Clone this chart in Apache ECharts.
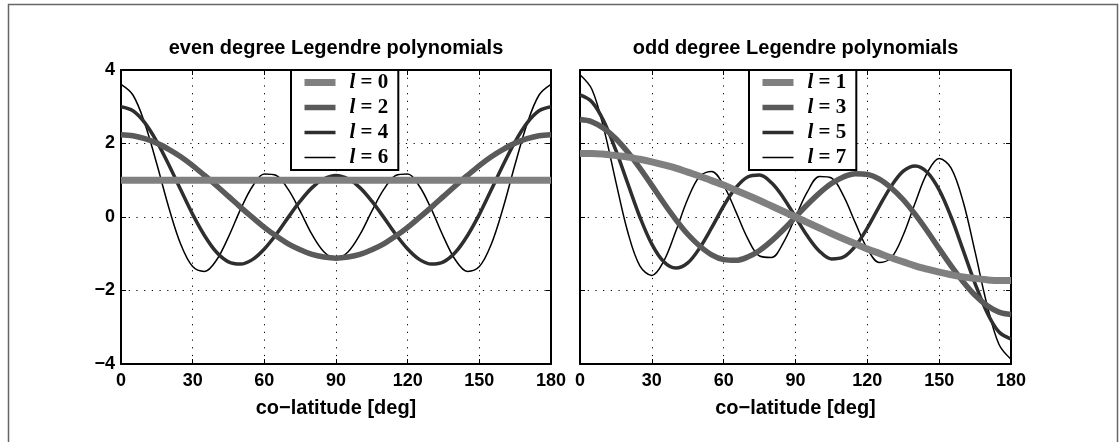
<!DOCTYPE html>
<html>
<head>
<meta charset="utf-8">
<script src="https://cdn.jsdelivr.net/npm/echarts@6/dist/echarts.min.js"></script>
<style>
  html, body { margin: 0; padding: 0; background: #fff; }
  #chart { width: 1119px; height: 442px; }
</style>
</head>
<body>
<div id="chart"></div>
<script>
// co-latitude samples [deg]
const colatitude = [0, 5, 10, 15, 20, 25, 30, 35, 40, 45, 50, 55, 60, 65, 70, 75, 80, 85, 90,
  95, 100, 105, 110, 115, 120, 125, 130, 135, 140, 145, 150, 155, 160, 165, 170, 175, 180];

// even degree curves
const l0 = [1, 1, 1, 1, 1, 1, 1, 1, 1, 1, 1, 1, 1, 1, 1, 1, 1, 1, 1,
  1, 1, 1, 1, 1, 1, 1, 1, 1, 1, 1, 1, 1, 1, 1, 1, 1, 1];
const l2 = [2.24, 2.21, 2.13, 2.01, 1.84, 1.64, 1.40, 1.13, 0.85, 0.56, 0.27, -0.01, -0.28, -0.52, -0.73, -0.89, -1.02, -1.09, -1.12,
  -1.09, -1.02, -0.89, -0.73, -0.52, -0.28, -0.01, 0.27, 0.56, 0.85, 1.13, 1.40, 1.64, 1.84, 2.01, 2.13, 2.21, 2.24];
const l4 = [3.00, 2.89, 2.56, 2.05, 1.42, 0.74, 0.07, -0.51, -0.96, -1.22, -1.28, -1.16, -0.87, -0.47, -0.01, 0.43, 0.80, 1.04, 1.13,
  1.04, 0.80, 0.43, -0.01, -0.47, -0.87, -1.16, -1.28, -1.22, -0.96, -0.51, 0.07, 0.74, 1.42, 2.05, 2.56, 2.89, 3.00];
const l6 = [3.61, 3.32, 2.54, 1.44, 0.26, -0.74, -1.35, -1.48, -1.17, -0.54, 0.20, 0.83, 1.17, 1.13, 0.75, 0.16, -0.48, -0.95, -1.13,
  -0.95, -0.48, 0.16, 0.75, 1.13, 1.17, 0.83, 0.20, -0.54, -1.17, -1.48, -1.35, -0.74, 0.26, 1.44, 2.54, 3.32, 3.61];

// odd degree curves
const l1 = [1.73, 1.73, 1.71, 1.67, 1.63, 1.57, 1.50, 1.42, 1.33, 1.22, 1.11, 0.99, 0.87, 0.73, 0.59, 0.45, 0.30, 0.15, 0.00,
  -0.15, -0.30, -0.45, -0.59, -0.73, -0.87, -0.99, -1.11, -1.22, -1.33, -1.42, -1.50, -1.57, -1.63, -1.67, -1.71, -1.73, -1.73];
const l3 = [2.65, 2.59, 2.41, 2.13, 1.76, 1.33, 0.86, 0.38, -0.07, -0.47, -0.79, -1.03, -1.16, -1.18, -1.09, -0.91, -0.65, -0.34, 0.00,
  0.34, 0.65, 0.91, 1.09, 1.18, 1.16, 1.03, 0.79, 0.47, 0.07, -0.38, -0.86, -1.33, -1.76, -2.13, -2.41, -2.59, -2.65];
const l5 = [3.32, 3.13, 2.60, 1.81, 0.90, 0.00, -0.74, -1.22, -1.39, -1.25, -0.84, -0.29, 0.30, 0.79, 1.09, 1.14, 0.93, 0.52, 0.00,
  -0.52, -0.93, -1.14, -1.09, -0.79, -0.30, 0.29, 0.84, 1.25, 1.39, 1.22, 0.74, 0.00, -0.90, -1.81, -2.60, -3.13, -3.32];
const l7 = [3.87, 3.47, 2.39, 0.95, -0.42, -1.33, -1.59, -1.20, -0.39, 0.49, 1.11, 1.24, 0.86, 0.16, -0.58, -1.06, -1.10, -0.69, 0.00,
  0.69, 1.10, 1.06, 0.58, -0.16, -0.86, -1.24, -1.11, -0.49, 0.39, 1.20, 1.59, 1.33, 0.42, -0.95, -2.39, -3.47, -3.87];

const xTicks = [0, 30, 60, 90, 120, 150, 180];
const yTicks = [-4, -2, 0, 2, 4];
const evenNames = ['l = 0', 'l = 2', 'l = 4', 'l = 6'];
const oddNames = ['l = 1', 'l = 3', 'l = 5', 'l = 7'];
const titles = ['even degree Legendre polynomials', 'odd degree Legendre polynomials'];
const xName = 'co\u2212latitude [deg]';

// thick light gray -> thin black
const colors = ['#808080', '#5a5a5a', '#2e2e2e', '#000000'];
const widths = [7, 5.5, 3.5, 1.5];

const sans = 'Liberation Sans';
const serif = 'Liberation Serif';
const chart = echarts.init(document.getElementById('chart'));

const minus = (v) => (v < 0 ? '\u2212' + Math.abs(v) : String(v));

function makeSeries(name, values, idx, k) {
    return {
        name: name,
        type: 'line',
        xAxisIndex: idx,
        yAxisIndex: idx,
        data: colatitude.map((c, i) => [c, values[i]]),
        smooth: 0.35,
        symbol: 'none',
        silent: true,
        animation: false,
        lineStyle: { color: colors[k], width: widths[k], cap: 'butt' },
        itemStyle: { color: colors[k] }
    };
}

function bottomAxis(idx) {
    return {
        type: 'value', gridIndex: idx, position: 'bottom',
        min: xTicks[0], max: xTicks[xTicks.length - 1], interval: 30,
        name: xName, nameLocation: 'middle', nameGap: 34,
        nameTextStyle: { fontFamily: sans, fontWeight: 'bold', fontSize: 20, color: '#000' },
        axisLine: { show: true, onZero: false, lineStyle: { color: '#000', width: 2 } },
        axisTick: { show: true, inside: true, length: 5, lineStyle: { color: '#000', width: 1 } },
        axisLabel: { margin: 8, fontFamily: sans, fontWeight: 'bold', fontSize: 18, color: '#000' },
        splitLine: { show: true, lineStyle: { color: '#000', width: 1, type: [1.2, 6.5] } }
    };
}

function topAxis(idx) {
    return {
        type: 'value', gridIndex: idx, position: 'top',
        min: xTicks[0], max: xTicks[xTicks.length - 1], interval: 30,
        name: titles[idx], nameLocation: 'middle', nameGap: 12,
        nameTextStyle: { fontFamily: sans, fontWeight: 'bold', fontSize: 20, color: '#000' },
        axisLine: { show: true, onZero: false, lineStyle: { color: '#000', width: 2 } },
        axisTick: { show: true, inside: true, length: 5, lineStyle: { color: '#000', width: 1 } },
        axisLabel: { show: false },
        splitLine: { show: false }
    };
}

function sideAxis(idx, pos, showLabel, grid) {
    return {
        type: 'value', gridIndex: idx, position: pos,
        min: yTicks[0], max: yTicks[yTicks.length - 1], interval: 2,
        axisLine: { show: true, onZero: false, lineStyle: { color: '#000', width: 2 } },
        axisTick: { show: true, inside: true, length: 5, lineStyle: { color: '#000', width: 1 } },
        axisLabel: { show: showLabel, margin: 6, formatter: minus,
            fontFamily: sans, fontWeight: 'bold', fontSize: 18, color: '#000' },
        splitLine: { show: grid, lineStyle: { color: '#000', width: 1, type: [1.2, 6.5] } }
    };
}

function makeLegend(names, left) {
    return {
        orient: 'vertical',
        left: left,
        top: 70,
        itemWidth: 31,
        itemHeight: 20,
        itemGap: 4,
        padding: [2, 10, 2, 10],
        backgroundColor: '#fff',
        borderColor: '#000',
        borderWidth: 2,
        selectedMode: false,
        data: names.map((n, k) => ({
            name: n,
            lineStyle: { width: widths[k], color: colors[k], cap: 'butt' },
            itemStyle: { color: 'rgba(0,0,0,0)', borderWidth: 0, opacity: 0 }
        })),
        formatter: (name) => '{s| }{i|l}{t|' + name.slice(1) + '}',
        textStyle: {
            lineHeight: 20,
            rich: {
                s: { width: 9, fontSize: 20, lineHeight: 20 },
                i: { fontFamily: serif, fontStyle: 'italic', fontWeight: 'bold', fontSize: 21, lineHeight: 20, color: '#000' },
                t: { fontFamily: serif, fontWeight: 'bold', fontSize: 21, lineHeight: 20, color: '#000' }
            }
        }
    };
}

// drawn thin first so the thick light curves sit on top
const series = [
    makeSeries(evenNames[3], l6, 0, 3),
    makeSeries(evenNames[2], l4, 0, 2),
    makeSeries(evenNames[1], l2, 0, 1),
    makeSeries(evenNames[0], l0, 0, 0),
    makeSeries(oddNames[3], l7, 1, 3),
    makeSeries(oddNames[2], l5, 1, 2),
    makeSeries(oddNames[1], l3, 1, 1),
    makeSeries(oddNames[0], l1, 1, 0)
];

const option = {
    backgroundColor: '#fff',
    animation: false,
    grid: [
        { left: 121, top: 70, width: 430, height: 294 },
        { left: 580, top: 70, width: 431, height: 294 }
    ],
    xAxis: [bottomAxis(0), bottomAxis(1), topAxis(0), topAxis(1)],
    yAxis: [sideAxis(0, 'left', true, true), sideAxis(1, 'left', false, true),
        sideAxis(0, 'right', false, false), sideAxis(1, 'right', false, false)],
    legend: [makeLegend(evenNames, 291), makeLegend(oddNames, 749)],
    graphic: [{
        type: 'rect', silent: true, z: -1,
        shape: { x: 8.5, y: 4.5, width: 1109, height: 460 },
        style: { fill: 'none', stroke: '#666', lineWidth: 1.5 }
    }],
    series: series
};

chart.setOption(option);
</script>
</body>
</html>
